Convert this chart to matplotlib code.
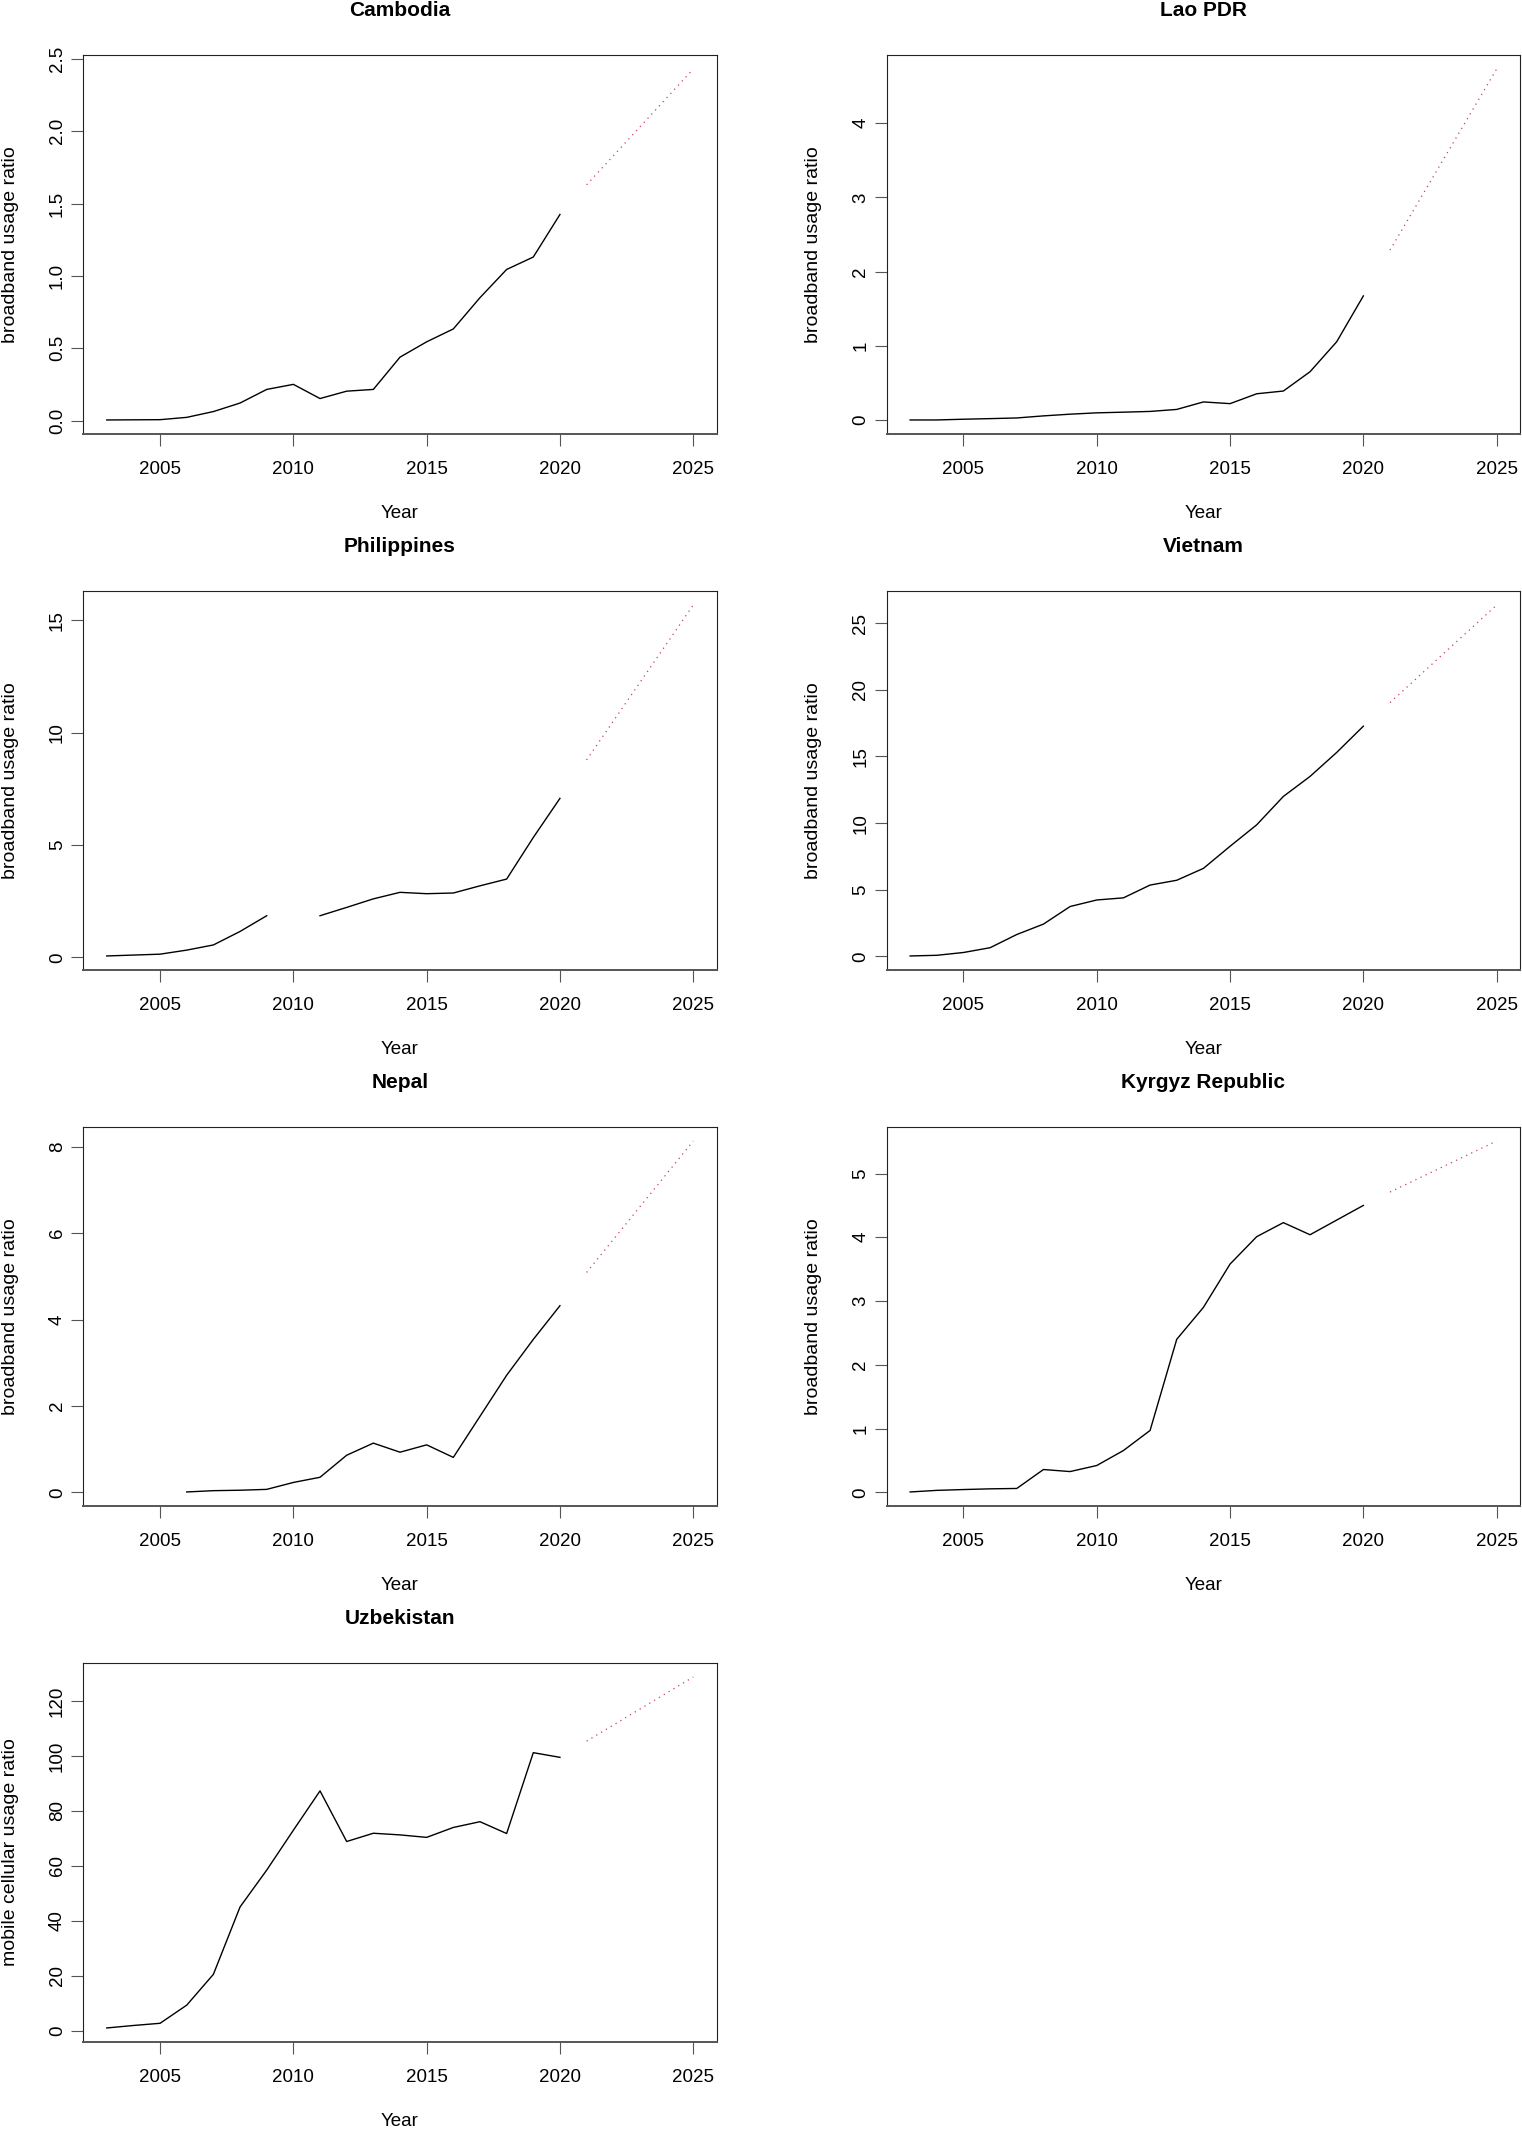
import numpy as np
import matplotlib
matplotlib.use("Agg")
import matplotlib.pyplot as plt

plt.rcParams['font.family'] = ['Liberation Sans', 'DejaVu Sans']

# observed data (2003-2020), NaN = missing
years = list(range(2003, 2021))
nepal_years = list(range(2006, 2021))
fc_years = [2021, 2025]

cambodia = [0.005, 0.006, 0.007, 0.023, 0.063, 0.122, 0.216, 0.251, 0.153, 0.204,
            0.216, 0.439, 0.545, 0.634, 0.85, 1.045, 1.131, 1.425]
cambodia_fc = [1.63, 2.43]

lao = [0.0, 0.0, 0.01, 0.018, 0.027, 0.055, 0.078, 0.096, 0.105, 0.115,
       0.142, 0.243, 0.22, 0.353, 0.39, 0.65, 1.054, 1.672]
lao_fc = [2.29, 4.73]

philippines = [0.06, 0.1, 0.14, 0.32, 0.55, 1.15, 1.85, np.nan, 1.85, 2.22,
               2.6, 2.89, 2.83, 2.86, 3.18, 3.48, 5.33, 7.07]
philippines_fc = [8.78, 15.67]

vietnam = [0.03, 0.08, 0.29, 0.65, 1.64, 2.42, 3.74, 4.23, 4.39, 5.35,
           5.71, 6.6, 8.26, 9.87, 12.0, 13.5, 15.3, 17.27]
vietnam_fc = [19.04, 26.36]

nepal = [0.01, 0.04, 0.05, 0.07, 0.23, 0.35, 0.86, 1.14, 0.93, 1.10,
         0.81, 1.76, 2.71, 3.54, 4.32]
nepal_fc = [5.09, 8.13]

kyrgyz = [0.005, 0.03, 0.043, 0.054, 0.06, 0.357, 0.325, 0.42, 0.655, 0.97,
          2.40, 2.90, 3.58, 4.01, 4.23, 4.04, 4.27, 4.50]
kyrgyz_fc = [4.71, 5.51]

uzbekistan = [1.1, 2.0, 2.8, 9.4, 20.6, 45.1, 58.5, 73.0, 87.3, 68.9,
              71.9, 71.3, 70.4, 74.0, 76.1, 71.8, 101.2, 99.5]
uzbekistan_fc = [105.4, 128.7]

x_ticks = [2005, 2010, 2015, 2020, 2025]

panels = [
    ("Cambodia", years, cambodia, cambodia_fc, "broadband usage ratio",
     [0.0, 0.5, 1.0, 1.5, 2.0, 2.5], ["0.0", "0.5", "1.0", "1.5", "2.0", "2.5"]),
    ("Lao PDR", years, lao, lao_fc, "broadband usage ratio",
     [0, 1, 2, 3, 4], ["0", "1", "2", "3", "4"]),
    ("Philippines", years, philippines, philippines_fc, "broadband usage ratio",
     [0, 5, 10, 15], ["0", "5", "10", "15"]),
    ("Vietnam", years, vietnam, vietnam_fc, "broadband usage ratio",
     [0, 5, 10, 15, 20, 25], ["0", "5", "10", "15", "20", "25"]),
    ("Nepal", nepal_years, nepal, nepal_fc, "broadband usage ratio",
     [0, 2, 4, 6, 8], ["0", "2", "4", "6", "8"]),
    ("Kyrgyz Republic", years, kyrgyz, kyrgyz_fc, "broadband usage ratio",
     [0, 1, 2, 3, 4, 5], ["0", "1", "2", "3", "4", "5"]),
    ("Uzbekistan", years, uzbekistan, uzbekistan_fc, "mobile cellular usage ratio",
     [0, 20, 40, 60, 80, 100, 120], ["0", "20", "40", "60", "80", "100", "120"]),
]

W, H = 1522, 2133
fig = plt.figure(figsize=(W / 100, H / 100), dpi=100)

# panel boxes in pixels
col_left = [83.3, 886.7]
box_w = 633.4
row_top = [55, 591, 1127, 1663]
box_h = 379

for i, (name, yrs, vals, fc, ylab, yt, ytl) in enumerate(panels):
    r, c = divmod(i, 2)
    ax = fig.add_axes([col_left[c] / W, 1 - (row_top[r] + box_h) / H, box_w / W, box_h / H])

    ax.plot(yrs, vals, color='black', lw=1.0)
    ax.plot(fc_years, fc, color='#c8405a', lw=0.9, linestyle=(0, (1, 3.5)))

    # R style 4% padding
    x0, x1 = 2003, 2025
    ax.set_xlim(x0 - 0.04 * (x1 - x0), x1 + 0.04 * (x1 - x0))
    allv = np.array(list(vals) + list(fc), dtype=float)
    lo, hi = np.nanmin(allv), np.nanmax(allv)
    ax.set_ylim(lo - 0.04 * (hi - lo), hi + 0.04 * (hi - lo))

    ax.set_xticks(x_ticks)
    ax.set_xticklabels([str(t) for t in x_ticks], fontsize=13.5)
    ax.set_yticks(yt)
    ax.set_yticklabels(ytl, fontsize=13.5, rotation=90, va='center', ha='right')

    ax.tick_params(axis='both', direction='out', length=8.6, width=0.8, color='#555555')
    ax.tick_params(axis='x', pad=11)
    ax.tick_params(axis='y', pad=4)

    for s in ax.spines.values():
        s.set_linewidth(0.8)
        s.set_color('#222222')
    ax.spines['bottom'].set_linewidth(1.4)
    ax.spines['bottom'].set_color('#555555')

    ax.set_xlabel("Year", fontsize=13.5)
    ax.xaxis.set_label_coords(0.5, -80 / box_h)
    ax.xaxis.label.set_va('center')
    ax.set_ylabel(ylab, fontsize=14)
    ax.yaxis.set_label_coords(-73 / box_w, 0.5)
    ax.yaxis.label.set_va('center')

    ax.text(0.5, 1 + 44 / box_h, name, transform=ax.transAxes, ha='center', va='center',
            fontsize=15, fontweight='bold')

fig.savefig("out.png", dpi=100, facecolor='white')
